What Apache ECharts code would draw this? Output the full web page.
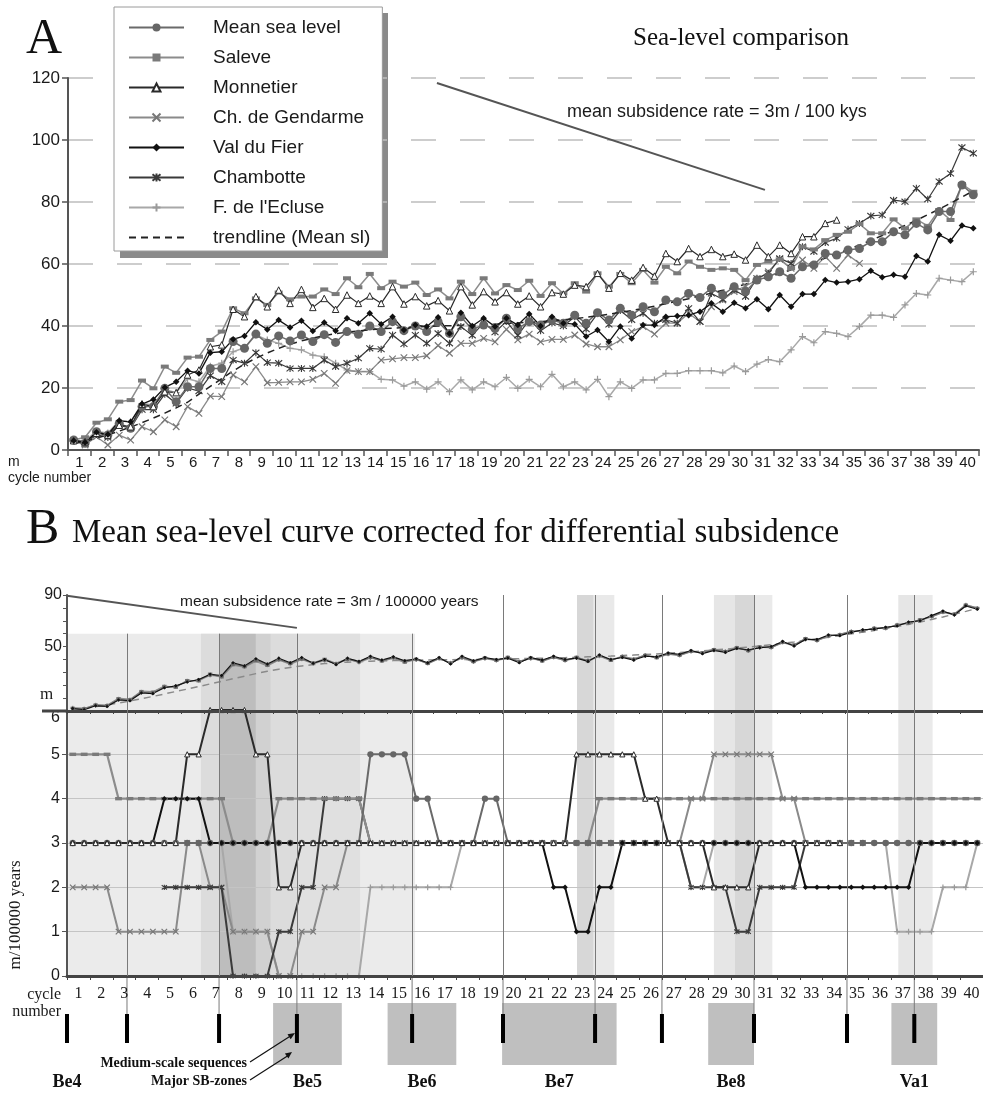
<!DOCTYPE html>
<html>
<head>
<meta charset="utf-8">
<title>Sea-level comparison</title>
<script src="https://cdn.jsdelivr.net/npm/echarts@6.0.0/dist/echarts.min.js"></script>
<style>
  html, body { margin: 0; padding: 0; background: #fff; }
  #chart { width: 983px; height: 1096px; }
</style>
</head>
<body>
<div id="chart"></div>
<script>
// ---- data: 80 points per curve = half-cycle steps over cycles 1..40 ----
const CYCLES = ['1','2','3','4','5','6','7','8','9','10','11','12','13','14','15','16','17','18','19','20',
  '21','22','23','24','25','26','27','28','29','30','31','32','33','34','35','36','37','38','39','40'];
const HALF = CYCLES.flatMap(c => [c + 'a', c + 'b']);

const NAMES = ['Mean sea level', 'Saleve', 'Monnetier', 'Ch. de Gendarme', 'Val du Fier', 'Chambotte', "F. de l'Ecluse", 'trendline (Mean sl)'];

// panel A, sea level in m
const MSL_A = [3.2,2.2,5.9,4.8,8.6,7,14,14,19.9,15.6, 20.4,20.4,26.3,26.3,35,32.8,37.4,34.4,36.8,35.2,
  37.1,35,37.2,34.7,38.2,37.3,40,38.2,41.4,38.5, 40,38.2,41.4,37.6,43,38.9,40.3,39.2,42.5,39.2,
  41.4,40.3,41.9,40.9,43.5,40.9,44.3,41.9,45.7,43.5, 46.2,44.6,48.4,47.8,50.5,49.2,52.2,50,52.7,51.1,
  54.8,55.9,57.5,55.4,59.1,59.7,63.4,62.9,64.5,65, 67.2,67.2,70.4,69.4,73.1,71,76.9,76.9,85.5,82.3];
const SAL_A = [3.2,4.1,8.8,9.9,15.6,16.1,22.4,19.9,26.9,24.9, 29.8,30.1,35.5,38.2,45.7,44.1,48.9,46.8,50.8,48.6,
  49.5,49.5,51.8,50.3,55.4,52.5,56.8,52.2,54.3,52.7, 54,50,51.8,48.9,54.3,50.3,55.4,50.5,53.2,51.6,
  54.6,49.7,53.8,50.5,53.8,51.1,57,52.7,56.8,53.8, 58.1,54,59.1,57,60.8,59.1,58.1,58.6,58.1,54.8,
  59.7,60.8,61.5,58.6,65.6,64.7,67.7,69.4,70.4,72.9, 69.9,69.9,74.4,71.5,74.4,72.3,77.4,74.2,85.8,83.3];
const MON_A = [3,2.7,5.4,4.8,8,7.5,14.8,14,18.8,18.5, 24.2,25.8,33.3,33.9,45.4,43,49.5,46.2,51.6,47.3,
  51.8,46,48.9,45.4,50,47.3,49.7,47.3,52.7,47.1, 49.5,46.5,48.2,44.9,52.7,46.8,51.1,47.8,50.8,47.1,
  49.7,46.2,50.8,50.3,53.2,52.7,57,52.2,57,54.8, 58.9,56.1,63.4,60.8,65,62.4,64.7,62.4,63.2,61.3,
  66.1,62.4,66.1,63.4,68.8,68.8,73.1,74.2,null,null, null,null,null,null,null,null,null,null,null,null];
const GEN_A = [3.2,1.6,4.3,1.6,4.8,3.2,7.5,5.9,9.7,7.5, 14,11.8,17.4,17.2,24.2,22,26.9,21.7,21.8,22,
  22,22.8,24.7,21.5,25.6,25.3,25.3,29,29.4,29.8, 29.8,30.4,33.7,31.2,34.4,34.4,36,34.9,38.9,35.5,
  37.4,34.9,35.7,35.7,37.1,34.2,33.3,33.3,35.5,38.2, 39.8,37.4,40.9,40.9,44.1,41.4,46.2,48.4,51.1,52.9,
  54.8,57.5,61.5,58.6,61.3,58.6,62.4,58.6,62.9,60.2, null,null,null,null,null,null,null,null,null,null];
const VDF_A = [3,2.4,5.7,5,9.4,9.1,14.8,16.3,20.2,22, 25.6,24.7,31.4,31.7,35.7,36.8,41.2,38.9,41.9,39.5,
  41.7,38.4,41.1,38.5,42.5,40.9,44.1,40.6,43,38.7, 40.3,39.8,42.8,37.6,44.3,40,42.5,39.8,42.5,40.3,
  43.9,40,43,40.9,40.6,36.6,38.7,34.9,39.8,36, 40.3,40.3,43,43.2,43.5,44.6,47.3,44.6,47.5,45.7,
  48.6,45.4,50,46.2,50.3,50.3,54.8,54,54.3,55.1, 57.8,55.7,56.5,55.9,62.6,60.8,69.4,67.5,72.4,71.5];
const CHA_A = [3,2,5,4,8,7,13,13,18,15, 20,19,24,22,29,28,31.4,28.2,28,26.3,
  26.3,26.3,29,26.9,28,29.6,32.8,32.5,37.1,34.2, 37.1,34.4,37.6,34.4,39.8,37,41,38,41.5,37,
  42,38.5,41,40,43,39,44,40.5,45,42, 44.1,40.9,42,40.9,45.7,41.4,50.5,48.6,51.6,49.5,
  55.4,57,61.8,60.2,65.6,64,66.9,68.3,71.2,73.1, 75.5,75.8,80.6,80.1,84.4,80.9,86.6,89.2,97.6,95.7];
const ECL_A = [3,3,6,5.5,9.5,9,15,14.5,19.5,18.5, 23,22,27,28,31.7,33,37.1,35.5,34.4,32.8,
  32.3,30.6,30.1,28,25.8,25.3,25.3,22.8,22.6,20.6, 22,19.6,22,18.8,22.6,19.4,22,20.4,23.4,19.9,
  22.8,20.4,24.4,20.4,22,19.4,22.8,17.2,22,19.9, 22.6,22.6,24.7,24.7,25.6,25.6,25.6,24.9,27.1,25.3,
  27.7,29.2,28.5,32.3,36.6,34.6,38.2,37.6,36.6,39.8, 43.5,43.5,42.8,46.8,50.5,50,55.4,54.8,54.3,57.5];
const TREND_A = [2,2.8,3.8,4.9,6.1,7.4,8.8,10.3,11.9,13.6, 15.4,18,20.5,23,25.5,27.7,29.6,31.3,32.8,34.1,
  35.2,36.1,36.9,37.5,38,38.4,38.8,39.1,39.3,39.5, 39.7,39.8,40,40.1,40.2,40.3,40.5,40.6,40.8,41,
  41.2,41.4,41.7,42,42.4,42.8,43.3,43.8,44.4,45, 45.7,46.4,47.2,48,48.8,49.7,50.6,51.5,52.5,53.5,
  54.6,55.7,56.9,58.1,59.3,60.6,61.9,63.3,64.7,66.1, 67.6,69.2,70.8,72.4,74.1,75.9,77.7,79.6,81.6,83.6];

// panel B top, corrected sea level in m
const MSL_B = [2,1.5,4.5,4,9,8.5,14.5,14,18.5,19, 23,24,28,27,36.5,34.5,39.5,36,40,37,
  40.5,37,39.5,36.5,40,38,41.5,39,41.5,38.5, 40,37,41,37,41.5,38.5,41,39.5,41.5,38,
  41,39,42,39.5,41.5,39,43,39.5,42,40, 43,41.5,44.5,43.5,46.5,45,47.5,46,49,47,
  49.5,49.5,53.5,51,56,55,58.5,59,61.5,62.5, 64,64.5,66.5,68.5,70.5,73.5,77,75,82,79.5];
const SAL_B = [2.5,2,5,4.5,10,9,15.5,15,19.5,18, 24,23,29,26,35.5,34,38.5,35,39.5,36.5,
  40,37.5,40.5,37,40.5,38.5,42,38.5,41,37.5, 40.5,36.5,40.5,37.5,42,38,41.5,39,42,38.5,
  41.5,38.5,41.5,39,42,38.5,42.5,39,42.5,40.5, 43.5,41,44,43,46,45.5,48,46.5,49.5,46.5,
  50,49,53,51.5,56.5,54.5,58,59.5,62,62, 64.5,64,67,68,71,73,76.5,75.5,82.5,80];
const VDF_B = [2,1,4,3.5,8.5,8,14,13.5,18,19.5, 22.5,24.5,28.5,27.5,37.5,35,40.5,36.5,41,37.5,
  41.5,37,40,36,41,38.5,42.5,39.5,42,39, 40.5,37.5,41.5,36.5,42.5,39,41.5,40,41,37.5,
  41.5,39.5,42.5,40,41,38.5,43.5,40,41.5,39.5, 42.5,42,45,44,47,44.5,47,45.5,48.5,47.5,
  49,50,54,50.5,55.5,55.5,59,58.5,61,63, 63.5,65,66,69,70,74,77.5,74.5,81.5,79];
const ECL_B = [2.5,2,5,4.5,9.5,9,15,14.5,19,19, 23.5,23.5,27.5,26.5,36,34,39,35.5,39.5,36,
  40,36.5,39,37,40.5,37.5,41,39.5,41,38, 39.5,37,40.5,37.5,41,38,40.5,39,41,38.5,
  40.5,39,41.5,39,41,39.5,42.5,40,42.5,40.5, 43.5,42,44,43,46,45,47,46.5,49,46.5,
  49.5,49,53,50.5,55.5,54.5,58,59.5,62,62, 64.5,64,67,68,70,73,76.5,74.5,82.5,80];
const TREND_B = [1,2,3.3,4.7,6.2,7.8,9.5,11.3,13.2,15.1, 17,19,21,23,25,27,29,30.8,32.4,33.8,
  35,36,36.8,37.4,37.9,38.3,38.6,38.9,39.1,39.3, 39.5,39.6,39.7,39.8,39.9,40,40.1,40.2,40.4,40.6,
  40.8,41,41.2,41.4,41.7,42,42.3,42.6,43,43.4, 43.8,44.3,44.8,45.4,46,46.6,47.3,48,48.8,49.6,
  50.4,51.4,52.5,53.6,54.8,56,57.3,58.6,59.9,61.2, 62.5,64,65.6,67.3,69.1,71,73,75.1,77.3,79.6];

// panel B bottom, rate in m / 100000 years
const MSL_R = [3,3,3,3,3,3,3,3,3,3, 3,3,3,3,3,3,3,3,3,3, 3,3,3,3,3,3,5,5,5,5, 4,4,3,3,3,3,4,4,3,3,
  3,3,3,3,3,3,3,3,3,3, 3,3,3,3,3,3,3,3,3,3, 3,3,3,3,3,3,3,3,3,3, 3,3,3,3,3,3,3,3,3,3];
const SAL_R = [5,5,5,5,4,4,4,4,4,4, 4,4,4,4,3,3,3,3,4,4, 4,4,4,4,4,4,3,3,3,3, 3,3,3,3,3,3,3,3,3,3,
  3,3,3,3,3,3,4,4,4,4, 4,4,4,4,4,4,4,4,4,4, 4,4,4,4,4,4,4,4,4,4, 4,4,4,4,4,4,4,4,4,4];
const MON_R = [3,3,3,3,3,3,3,3,3,3, 5,5,6,6,6,6,5,5,2,2, 3,3,3,3,3,3,3,3,3,3, 3,3,3,3,3,3,3,3,3,3,
  3,3,3,3,5,5,5,5,5,5, 4,4,3,3,3,3,2,2,2,2, 3,3,3,3,3,3,3,3,null,null, null,null,null,null,null,null,null,null,null,null];
const GEN_R = [2,2,2,2,1,1,1,1,1,1, 3,3,2,2,1,1,1,1,0,0, 1,1,2,2,3,3,3,3,3,3, 3,3,3,3,3,3,3,3,3,3,
  3,3,3,3,3,3,3,3,3,3, 3,3,3,3,4,4,5,5,5,5, 5,5,4,4,3,3,3,3,3,3, null,null,null,null,null,null,null,null,null,null];
const VDF_R = [3,3,3,3,3,3,3,3,4,4, 4,4,3,3,3,3,3,3,3,3, 3,3,3,3,3,3,3,3,3,3, 3,3,3,3,3,3,3,3,3,3,
  3,3,2,2,1,1,2,2,3,3, 3,3,3,3,3,3,3,3,3,3, 3,3,3,3,2,2,2,2,2,2, 2,2,2,2,3,3,3,3,3,3];
const CHA_R = [null,null,null,null,null,null,null,null,2,2, 2,2,2,2,0,0,0,0,1,1, 2,2,4,4,4,4,3,3,3,3,
  3,3,3,3,3,3,3,3,3,3, 3,3,3,3,3,3,3,3,3,3, 3,3,3,3,2,2,2,2,1,1, 2,2,2,2,3,3,3,3,3,3, 3,3,3,3,3,3,3,3,3,3];
const ECL_R = [3,3,3,3,3,3,3,3,3,3, 3,3,3,3,1,1,1,1,0,0, 0,0,0,0,0,0,2,2,2,2, 2,2,2,2,3,3,3,3,3,3,
  3,3,3,3,3,3,3,3,3,3, 3,3,3,3,2,2,3,3,3,3, 3,3,3,3,3,3,3,3,3,3, 3,3,1,1,1,1,2,2,2,3];

// annotations, in cycle units (0..40 along the axis)
const SUBSIDENCE_A = [[16.2, 118.4], [30.6, 83.9]];
const SUBSIDENCE_B = [[0, 89.5], [10.04, 64.5]];
const WIDE_BAND = [0.05, 15.2];
const WIDE_SUB = [[5.85, 6.68], [6.68, 8.25], [8.25, 8.9], [8.9, 10.04], [10.04, 12.8]];
const NARROW_BANDS = [[22.27, 23.0], [23.0, 23.9], [28.25, 29.17], [29.17, 30.0], [30.0, 30.8], [36.3, 37.03], [37.03, 37.8]];
const SEQ_BOUNDS = [2.62, 6.64, 10.04, 15.07, 19.04, 23.06, 25.98, 30.0, 34.06, 37.0];
const SEQ_TICKS = [0, 2.62, 6.64, 10.04, 15.07, 19.04, 23.06, 25.98, 30.0, 34.06, 37.0];
const SB_ZONES = [[9, 12], [14, 17], [19, 24], [28, 30], [36, 38]];
const ZONE_NAMES = ['Be4', 'Be5', 'Be6', 'Be7', 'Be8', 'Va1'];
const ZONE_AT = [0, 10.5, 15.5, 21.5, 29, 37];

// ---- styles ----
const SANS = '"Liberation Sans", Arial, sans-serif';
const SERIF = '"Liberation Serif", "Times New Roman", serif';
const SYM_X = 'path://M0,0L10,10M10,0L0,10';
const SYM_AST = 'path://M0,0L10,10M10,0L0,10M5,-1L5,11';
const SYM_PLUS = 'path://M5,0L5,10M0,5L10,5';

const LOOK = {
  'Mean sea level':  { line: '#6a6a6a', width: 1.5, symbol: 'circle', size: 9, fill: '#666', border: '#666', bw: 0 },
  'Saleve':          { line: '#8c8c8c', width: 1.5, symbol: 'rect', size: [8, 4], fill: '#7a7a7a', border: '#7a7a7a', bw: 0 },
  'Monnetier':       { line: '#2a2a2a', width: 1.2, symbol: 'triangle', size: 6.5, fill: '#fff', border: '#2a2a2a', bw: 1 },
  'Ch. de Gendarme': { line: '#8a8a8a', width: 1.3, symbol: SYM_X, size: 6.5, fill: '#777', border: '#777', bw: 1.2 },
  'Val du Fier':     { line: '#111', width: 1.3, symbol: 'diamond', size: 6.5, fill: '#111', border: '#111', bw: 0 },
  'Chambotte':       { line: '#3a3a3a', width: 1.2, symbol: SYM_AST, size: 7, fill: '#3a3a3a', border: '#3a3a3a', bw: 1.1 },
  "F. de l'Ecluse":  { line: '#a8a8a8', width: 1.5, symbol: SYM_PLUS, size: 7, fill: '#9a9a9a', border: '#9a9a9a', bw: 1.2 }
};

function curve(name, data, xi, yi, scale, width) {
  const s = LOOK[name];
  const size = Array.isArray(s.size) ? s.size.map(v => v * scale) : s.size * scale;
  return {
    name, type: 'line', data, xAxisIndex: xi, yAxisIndex: yi,
    symbol: s.symbol, symbolSize: size, showAllSymbol: true, clip: false, z: 3,
    lineStyle: { color: s.line, width: width || s.width },
    itemStyle: { color: s.fill, borderColor: s.border, borderWidth: s.bw },
    emphasis: { disabled: true }, silent: true
  };
}

function trend(data, xi, yi, color) {
  return {
    name: 'trendline (Mean sl)', type: 'line', data, xAxisIndex: xi, yAxisIndex: yi,
    symbol: 'none', z: 3, silent: true,
    lineStyle: { color, width: 1.5, type: [7, 5] },
    itemStyle: { color: 'rgba(0,0,0,0)', borderWidth: 0 }
  };
}

function straight(data, xi, yi) {
  return { type: 'line', data, xAxisIndex: xi, yAxisIndex: yi, symbol: 'none', z: 3, silent: true,
    lineStyle: { color: '#555', width: 2 } };
}

const WIDE_SHADES = ['#dcdcdc', '#bdbdbd', '#d1d1d1', '#dcdcdc', '#e0e0e0'];
const NARROW_SHADES = ['#d7d7d7', '#e9e9e9', '#e6e6e6', '#d7d7d7', '#eaeaea', '#e6e6e6', '#eaeaea'];

function shading(xi, yi, wideTop, narrowTop) {
  const area = (a, b, top, color) => [{ xAxis: a, yAxis: top, itemStyle: { color, opacity: 1 } }, { xAxis: b, yAxis: 0 }];
  const data = [area(WIDE_BAND[0], WIDE_BAND[1], wideTop, '#ebebeb')]
    .concat(WIDE_SUB.map((b, i) => area(b[0], b[1], wideTop, WIDE_SHADES[i])))
    .concat(NARROW_BANDS.map((b, i) => area(b[0], b[1], narrowTop, NARROW_SHADES[i])));
  return { type: 'line', data: [], xAxisIndex: xi, yAxisIndex: yi, z: 1, silent: true,
    markArea: { silent: true, label: { show: false }, data } };
}

function seqLines(xi, yi, wideTop, narrowTop) {
  const data = SEQ_BOUNDS.map(c => [{ coord: [c, c < WIDE_BAND[1] ? wideTop : narrowTop] }, { coord: [c, 0] }]);
  return { type: 'line', data: [], xAxisIndex: xi, yAxisIndex: yi, z: 2, silent: true,
    markLine: { silent: true, symbol: ['none', 'none'], label: { show: false },
      lineStyle: { color: '#7a7a7a', width: 1, type: 'solid' }, data } };
}

const hiddenCat = g => ({ gridIndex: g, type: 'category', data: HALF, boundaryGap: true, show: false });
const hiddenVal = g => ({ gridIndex: g, type: 'value', min: 0, max: 40, show: false });

const chart = echarts.init(document.getElementById('chart'), null, { renderer: 'canvas' });

const option = {
  animation: false,
  backgroundColor: '#fff',
  textStyle: { fontFamily: SANS },
  grid: [
    { left: 68, top: 78, width: 911, height: 372, outerBoundsMode: 'none' },
    { left: 67, top: 595, width: 916, height: 116, outerBoundsMode: 'none' },
    { left: 67, top: 710, width: 916, height: 266, outerBoundsMode: 'none' },
    { left: 67, top: 976, width: 916, height: 120, outerBoundsMode: 'none' }
  ],
  xAxis: [
    { gridIndex: 0, type: 'category', data: CYCLES, boundaryGap: true, z: 4,
      axisLine: { lineStyle: { color: '#555', width: 2 } },
      axisTick: { show: true, interval: 0, length: 6, lineStyle: { color: '#555', width: 1.5 } },
      axisLabel: { interval: 0, fontSize: 15, color: '#1a1a1a', fontFamily: SANS, margin: 5 },
      splitLine: { show: false } },
    hiddenCat(0), hiddenVal(0),
    { gridIndex: 1, type: 'category', data: CYCLES, boundaryGap: true, z: 4,
      axisLine: { lineStyle: { color: '#444', width: 3 } },
      axisTick: { show: true, interval: 0, length: 3, lineStyle: { color: '#444' } },
      axisLabel: { show: false }, splitLine: { show: false } },
    hiddenCat(1), hiddenVal(1),
    { gridIndex: 2, type: 'category', data: CYCLES, boundaryGap: true, z: 4,
      axisLine: { lineStyle: { color: '#444', width: 3 } },
      axisTick: { show: true, interval: 0, length: 4, lineStyle: { color: '#444' } },
      axisLabel: { interval: 0, fontSize: 16, color: '#1a1a1a', fontFamily: SERIF, margin: 10 },
      splitLine: { show: false } },
    hiddenCat(2), hiddenVal(2), hiddenVal(3)
  ],
  yAxis: [
    { gridIndex: 0, type: 'value', min: 0, max: 120, interval: 20, z: 2,
      axisLine: { show: true, lineStyle: { color: '#555', width: 2 } },
      axisTick: { show: true, length: 6, lineStyle: { color: '#555', width: 1.5 } },
      axisLabel: { fontSize: 17, color: '#1a1a1a', fontFamily: SANS, margin: 8 },
      splitLine: { show: true, lineStyle: { color: '#bdbdbd', width: 1.5, type: [25, 24] } } },
    { gridIndex: 1, type: 'value', min: 0, max: 90, interval: 10, z: 4,
      axisLine: { show: true, lineStyle: { color: '#555', width: 2 } },
      axisTick: { show: true, length: 4, lineStyle: { color: '#555' } },
      axisLabel: { fontSize: 16, color: '#1a1a1a', fontFamily: SANS, margin: 5,
        formatter: v => (v === 50 || v === 90) ? String(v) : '' },
      splitLine: { show: false } },
    { gridIndex: 2, type: 'value', min: 0, max: 6, interval: 1, z: 2,
      axisLine: { show: true, lineStyle: { color: '#555', width: 2 } },
      axisTick: { show: true, length: 5, lineStyle: { color: '#555' } },
      axisLabel: { fontSize: 16, color: '#1a1a1a', fontFamily: SANS, margin: 7, verticalAlignMaxLabel: 'top' },
      splitLine: { show: true, lineStyle: { color: '#c4c4c4', width: 1 } } },
    { gridIndex: 3, type: 'value', min: 0, max: 120, show: false }
  ],
  legend: {
    data: NAMES, orient: 'vertical', left: 114, top: 7,
    padding: [11, 12, 4, 14], itemWidth: 55, itemHeight: 10, itemGap: 11,
    backgroundColor: '#fff', borderColor: '#9a9a9a', borderWidth: 1,
    selectedMode: false, z: 5,
    textStyle: { fontSize: 19, fontFamily: SANS, color: '#1a1a1a', padding: [0, 0, 0, 24] }
  },
  graphic: [
    { type: 'rect', x: 120, y: 13, shape: { width: 268, height: 245 }, style: { fill: '#8a8a8a' }, z: 1, silent: true },
    { type: 'text', x: 26, y: 40, z: 10, style: { text: 'A', font: '50px ' + SERIF, fill: '#111', verticalAlign: 'middle' } },
    { type: 'text', x: 633, y: 38, z: 10, style: { text: 'Sea-level comparison', font: '25px ' + SERIF, fill: '#111', verticalAlign: 'middle' } },
    { type: 'text', x: 567, y: 112, z: 10, style: { text: 'mean subsidence rate = 3m / 100 kys', font: '18px ' + SANS, fill: '#1a1a1a', verticalAlign: 'middle' } },
    { type: 'text', x: 8, y: 462, z: 10, style: { text: 'm', font: '14px ' + SANS, fill: '#1a1a1a', verticalAlign: 'middle' } },
    { type: 'text', x: 8, y: 478, z: 10, style: { text: 'cycle number', font: '14px ' + SANS, fill: '#1a1a1a', verticalAlign: 'middle' } },
    { type: 'text', x: 26, y: 530, z: 10, style: { text: 'B', font: '50px ' + SERIF, fill: '#111', verticalAlign: 'middle' } },
    { type: 'text', x: 72, y: 533, z: 10, style: { text: 'Mean sea-level curve corrected for differential subsidence', font: '33px ' + SERIF, fill: '#111', verticalAlign: 'middle' } },
    { type: 'text', x: 180, y: 602, z: 10, style: { text: 'mean subsidence rate = 3m / 100000 years', font: '15.5px ' + SANS, fill: '#1a1a1a', verticalAlign: 'middle' } },
    { type: 'text', x: 40, y: 695, z: 10, style: { text: 'm', font: '17px ' + SERIF, fill: '#1a1a1a', verticalAlign: 'middle' } },
    { type: 'text', x: 16, y: 915, rotation: Math.PI / 2, z: 10, style: { text: 'm/100000 years', font: '17px ' + SERIF, fill: '#1a1a1a', align: 'center', verticalAlign: 'middle' } },
    { type: 'text', x: 61, y: 995, z: 10, style: { text: 'cycle', font: '16px ' + SERIF, fill: '#1a1a1a', align: 'right', verticalAlign: 'middle' } },
    { type: 'text', x: 61, y: 1012, z: 10, style: { text: 'number', font: '16px ' + SERIF, fill: '#1a1a1a', align: 'right', verticalAlign: 'middle' } },
    { type: 'line', z: 10, shape: { x1: 42, y1: 711, x2: 68, y2: 711 }, style: { stroke: '#444', lineWidth: 3 } },
    { type: 'text', x: 247, y: 1063, z: 10, style: { text: 'Medium-scale sequences', font: 'bold 14px ' + SERIF, fill: '#111', align: 'right', verticalAlign: 'middle' } },
    { type: 'text', x: 247, y: 1081, z: 10, style: { text: 'Major SB-zones', font: 'bold 14px ' + SERIF, fill: '#111', align: 'right', verticalAlign: 'middle' } },
    { type: 'line', z: 10, shape: { x1: 250, y1: 1062, x2: 292, y2: 1035 }, style: { stroke: '#111', lineWidth: 1.2 } },
    { type: 'polygon', z: 10, shape: { points: [[295, 1033], [290.7, 1039.3], [287.5, 1034.3]] }, style: { fill: '#111' } },
    { type: 'line', z: 10, shape: { x1: 250, y1: 1080, x2: 289, y2: 1055 }, style: { stroke: '#111', lineWidth: 1.2 } },
    { type: 'polygon', z: 10, shape: { points: [[292, 1052], [288.4, 1058.4], [284.9, 1053.5]] }, style: { fill: '#111' } }
  ],
  series: [
    // panel A
    curve("F. de l'Ecluse", ECL_A, 1, 0, 1),
    curve('Ch. de Gendarme', GEN_A, 1, 0, 1),
    curve('Chambotte', CHA_A, 1, 0, 1),
    curve('Saleve', SAL_A, 1, 0, 1),
    curve('Mean sea level', MSL_A, 1, 0, 1),
    curve('Monnetier', MON_A, 1, 0, 1),
    curve('Val du Fier', VDF_A, 1, 0, 1),
    trend(TREND_A, 1, 0, '#222'),
    straight(SUBSIDENCE_A, 2, 0),
    // panel B top
    shading(5, 1, 60, 90),
    seqLines(5, 1, 60, 90),
    trend(TREND_B, 4, 1, '#8a8a8a'),
    curve("F. de l'Ecluse", ECL_B, 4, 1, 0.55, 1.1),
    curve('Saleve', SAL_B, 4, 1, 0.55, 1.1),
    curve('Mean sea level', MSL_B, 4, 1, 0.45, 1.1),
    curve('Val du Fier', VDF_B, 4, 1, 0.55, 1.1),
    straight(SUBSIDENCE_B, 5, 1),
    // panel B bottom
    shading(8, 2, 6, 6),
    seqLines(8, 2, 6, 6),
    curve("F. de l'Ecluse", ECL_R, 7, 2, 0.8, 2),
    curve('Ch. de Gendarme', GEN_R, 7, 2, 0.85, 2),
    curve('Chambotte', CHA_R, 7, 2, 0.75, 2),
    curve('Saleve', SAL_R, 7, 2, 0.85, 2.2),
    curve('Mean sea level', MSL_R, 7, 2, 0.7, 2),
    curve('Val du Fier', VDF_R, 7, 2, 0.85, 2),
    curve('Monnetier', MON_R, 7, 2, 0.8, 2),
    // strip below: SB-zones, medium-scale sequence bars, zone names
    { type: 'custom', xAxisIndex: 9, yAxisIndex: 3, silent: true, z: 1, data: SB_ZONES,
      renderItem: (params, api) => {
        const a = api.coord([api.value(0), 93]);
        const b = api.coord([api.value(1), 31]);
        return { type: 'rect', shape: { x: a[0], y: a[1], width: b[0] - a[0], height: b[1] - a[1] }, style: { fill: '#bfbfbf' } };
      } },
    { type: 'custom', xAxisIndex: 9, yAxisIndex: 3, silent: true, z: 2, data: SEQ_TICKS.map(c => [c]),
      renderItem: (params, api) => {
        const top = api.coord([api.value(0), 120]);
        const barTop = api.coord([api.value(0), 82]);
        const barBot = api.coord([api.value(0), 53]);
        const kids = [{ type: 'rect', shape: { x: barTop[0] - 2, y: barTop[1], width: 4, height: barBot[1] - barTop[1] }, style: { fill: '#000' } }];
        if (params.dataIndex > 0) {
          kids.push({ type: 'line', shape: { x1: top[0], y1: top[1], x2: barTop[0], y2: barTop[1] }, style: { stroke: '#7a7a7a', lineWidth: 1 } });
        }
        return { type: 'group', children: kids };
      } },
    { type: 'custom', xAxisIndex: 9, yAxisIndex: 3, silent: true, z: 3, data: ZONE_AT.map((c, i) => [c, i]),
      renderItem: (params, api) => {
        const p = api.coord([api.value(0), 14]);
        return { type: 'text', x: p[0], y: p[1], style: { text: ZONE_NAMES[api.value(1)], font: 'bold 18px ' + SERIF, fill: '#111', align: 'center', verticalAlign: 'middle' } };
      } }
  ]
};

chart.setOption(option);
</script>
</body>
</html>
